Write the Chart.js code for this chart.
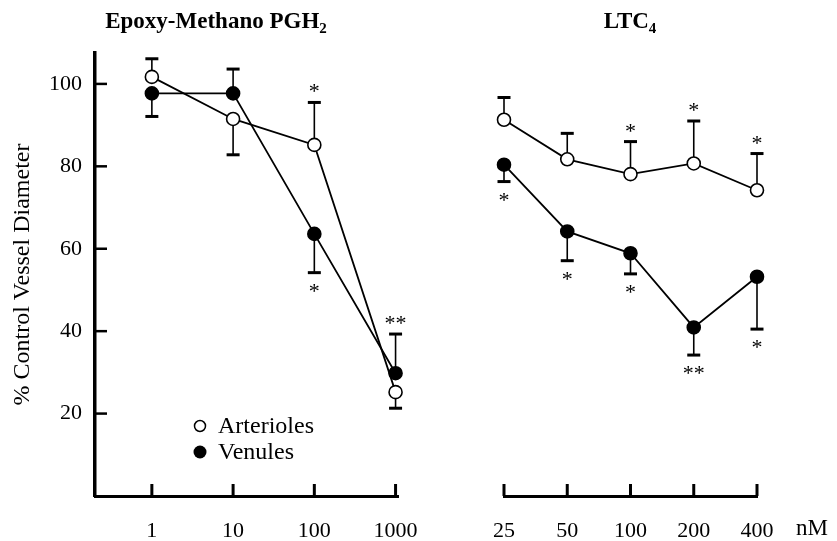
<!DOCTYPE html>
<html>
<head>
<meta charset="utf-8">
<script src="https://cdn.jsdelivr.net/npm/chart.js@4"></script>
<style>
  body { margin: 0; background: #fff; }
  #wrap { position: relative; width: 837px; height: 541px; }
  .panel { position: absolute; top: 0; height: 541px; }
</style>
</head>
<body>
<div id="wrap">
  <div class="panel" style="left:0;width:420px"><canvas id="left"></canvas></div>
  <div class="panel" style="left:420px;width:417px"><canvas id="right"></canvas></div>
</div>
<script>
// Epoxy-Methano PGH2 panel
const leftDoses = ['1', '10', '100', '1000'];
const leftArt = [101.7, 91.5, 85.2, 25.2];
const leftArtErr = [4.4, -8.7, 10.3, -3.9];   // + = bar drawn up, - = down
const leftArtSig = ['', '', '*', ''];
const leftVen = [97.7, 97.7, 63.6, 29.8];
const leftVenErr = [-5.6, 5.9, -9.4, 9.5];
const leftVenSig = ['', '', '*', '**'];

// LTC4 panel
const rightDoses = ['25', '50', '100', '200', '400'];
const rightArt = [91.3, 81.7, 78.1, 80.7, 74.2];
const rightArtErr = [5.4, 6.3, 7.9, 10.3, 8.9];
const rightArtSig = ['', '', '*', '*', '*'];
const rightVen = [80.4, 64.2, 58.9, 40.9, 53.2];
const rightVenErr = [-4.1, -7.1, -5.0, -6.7, -12.7];
const rightVenSig = ['*', '*', '*', '**', '*'];

const yTicks = [20, 40, 60, 80, 100];

const SERIF = "'Liberation Serif', 'Times New Roman', serif";

function makeSet(label, vals, err, sig, filled) {
    return {
        label: label,
        data: vals.map((v, i) => ({ x: i, y: v })),
        err: err,
        sig: sig,
        borderColor: '#000',
        borderWidth: 1.8,
        pointRadius: 6.5,
        pointHoverRadius: 6.5,
        pointBorderWidth: 1.6,
        pointBorderColor: '#000',
        pointBackgroundColor: filled ? '#000' : '#fff',
        tension: 0,
        fill: false,
        clip: false
    };
}

// error bars + significance stars
const errorBars = {
    id: 'errorBars',
    beforeDatasetsDraw(chart) {
        const { ctx, scales: { x, y } } = chart;
        ctx.save();
        ctx.strokeStyle = '#000';
        ctx.fillStyle = '#000';
        chart.data.datasets.forEach(ds => {
            ds.data.forEach((pt, i) => {
                const e = ds.err[i];
                const px = x.getPixelForValue(pt.x);
                const py = y.getPixelForValue(pt.y);
                const ey = y.getPixelForValue(pt.y + e);
                ctx.lineWidth = 1.6;
                ctx.beginPath();
                ctx.moveTo(px, py);
                ctx.lineTo(px, ey);
                ctx.stroke();
                ctx.lineWidth = 3;
                ctx.beginPath();
                ctx.moveTo(px - 6.5, ey);
                ctx.lineTo(px + 6.5, ey);
                ctx.stroke();
                if (ds.sig[i]) {
                    const sy = e > 0 ? ey - 14 : ey + 15;
                    ctx.font = '22px ' + SERIF;
                    ctx.textAlign = 'center';
                    ctx.textBaseline = 'alphabetic';
                    ctx.fillText(ds.sig[i], px, sy + 10);
                }
            });
        });
        ctx.restore();
    }
};

// inward tick marks on the axes
const tickMarks = {
    id: 'tickMarks',
    afterDraw(chart) {
        const { ctx, chartArea, scales: { x, y } } = chart;
        ctx.save();
        ctx.strokeStyle = '#000';
        ctx.lineWidth = 3;
        x.ticks.forEach(t => {
            const px = x.getPixelForValue(t.value);
            ctx.beginPath();
            ctx.moveTo(px, chartArea.bottom);
            ctx.lineTo(px, chartArea.bottom - 12);
            ctx.stroke();
        });
        if (y.options.display) {
            ctx.lineWidth = 2.5;
            y.ticks.forEach(t => {
                const py = y.getPixelForValue(t.value);
                ctx.beginPath();
                ctx.moveTo(chartArea.left, py);
                ctx.lineTo(chartArea.left + 12, py);
                ctx.stroke();
            });
        }
        ctx.restore();
    }
};

function drawTitle(ctx, main, sub, cx, base) {
    ctx.save();
    ctx.fillStyle = '#000';
    ctx.textBaseline = 'alphabetic';
    ctx.textAlign = 'left';
    ctx.font = 'bold 23px ' + SERIF;
    const w1 = ctx.measureText(main).width;
    ctx.font = 'bold 15px ' + SERIF;
    const w2 = ctx.measureText(sub).width;
    const x0 = cx - (w1 + w2) / 2;
    ctx.font = 'bold 23px ' + SERIF;
    ctx.fillText(main, x0, base);
    ctx.font = 'bold 15px ' + SERIF;
    ctx.fillText(sub, x0 + w1, base + 5);
    ctx.restore();
}

const leftExtras = {
    id: 'leftExtras',
    afterDraw(chart) {
        const ctx = chart.ctx;
        drawTitle(ctx, 'Epoxy-Methano PGH', '2', 216, 28);
        // legend
        ctx.save();
        ctx.strokeStyle = '#000';
        ctx.lineWidth = 1.5;
        ctx.fillStyle = '#fff';
        ctx.beginPath();
        ctx.arc(200, 426, 5.5, 0, Math.PI * 2);
        ctx.fill();
        ctx.stroke();
        ctx.fillStyle = '#000';
        ctx.beginPath();
        ctx.arc(200, 452, 6.5, 0, Math.PI * 2);
        ctx.fill();
        ctx.font = '24px ' + SERIF;
        ctx.textAlign = 'left';
        ctx.textBaseline = 'middle';
        ctx.fillText('Arterioles', 218, 427);
        ctx.fillText('Venules', 218, 453);
        ctx.restore();
    }
};

const rightExtras = {
    id: 'rightExtras',
    afterDraw(chart) {
        const ctx = chart.ctx;
        drawTitle(ctx, 'LTC', '4', 210, 28);
        ctx.save();
        ctx.fillStyle = '#000';
        ctx.font = '23px ' + SERIF;
        ctx.textAlign = 'center';
        ctx.textBaseline = 'middle';
        ctx.fillText('nM', 392, 529);
        ctx.restore();
    }
};

function xScale(labels, min, max) {
    return {
        type: 'linear',
        min: min,
        max: max,
        afterBuildTicks: s => { s.ticks = labels.map((_, i) => ({ value: i })); },
        afterFit: s => { s.height = 45; },
        // invisible tick marks only push the labels down; the real marks are drawn inward
        grid: { display: true, drawOnChartArea: false, drawTicks: true, tickLength: 22, tickColor: 'rgba(0,0,0,0)' },
        border: { display: true, color: '#000', width: 3 },
        ticks: {
            callback: v => labels[v],
            color: '#000',
            font: { family: SERIF, size: 22 },
            padding: 0,
            maxRotation: 0,
            autoSkip: false
        }
    };
}

const baseOptions = {
    responsive: true,
    maintainAspectRatio: false,
    animation: false,
    events: [],
    plugins: { legend: { display: false }, tooltip: { enabled: false }, title: { display: false } }
};

new Chart(document.getElementById('left'), {
    type: 'line',
    data: {
        datasets: [
            makeSet('Arterioles', leftArt, leftArtErr, leftArtSig, false),
            makeSet('Venules', leftVen, leftVenErr, leftVenSig, true)
        ]
    },
    options: {
        ...baseOptions,
        layout: { padding: { top: 53, left: 0, right: 22, bottom: 0 } },
        scales: {
            x: xScale(leftDoses, -0.7, 3.03),
            y: {
                min: 0,
                max: 107.5,
                afterBuildTicks: s => { s.ticks = yTicks.map(v => ({ value: v })); },
                afterFit: s => { s.width = 95; },
                grid: { display: false },
                border: { display: true, color: '#000', width: 3.5 },
                ticks: { color: '#000', font: { family: SERIF, size: 22 }, padding: 5 },
                title: {
                    display: true,
                    text: '% Control Vessel Diameter',
                    color: '#000',
                    font: { family: SERIF, size: 24 },
                    padding: { top: 8, bottom: 0 }
                }
            }
        }
    },
    plugins: [errorBars, tickMarks, leftExtras]
});

new Chart(document.getElementById('right'), {
    type: 'line',
    data: {
        datasets: [
            makeSet('Arterioles', rightArt, rightArtErr, rightArtSig, false),
            makeSet('Venules', rightVen, rightVenErr, rightVenSig, true)
        ]
    },
    options: {
        ...baseOptions,
        layout: { padding: { top: 53, left: 84, right: 80, bottom: 0 } },
        scales: {
            x: xScale(rightDoses, 0, 4),
            y: { display: false, min: 0, max: 107.5 }
        }
    },
    plugins: [errorBars, tickMarks, rightExtras]
});
</script>
</body>
</html>
